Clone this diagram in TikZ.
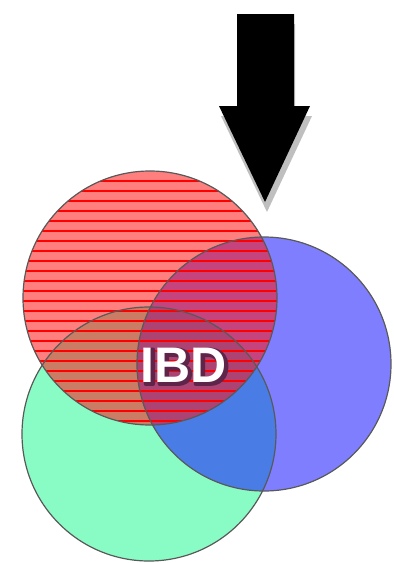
\documentclass[tikz,border=0pt]{standalone}
\usepackage{fontspec}
\setmainfont{Liberation Sans}
\definecolor{hatch}{RGB}{255,0,0}
\begin{document}
\begin{tikzpicture}[x=1pt,y=-1pt,
  outline/.style={draw=black!65,line width=1.2pt},
  lbl/.style={font=\fontsize{50}{50}\selectfont\bfseries,inner sep=0pt,text=white}]
\useasboundingbox (0,0) rectangle (394,563);
% green
\fill[fill={rgb,255:red,40;green,250;blue,150},fill opacity=0.55] (149,434) circle (127);
% blue
\fill[fill={rgb,255:red,20;green,20;blue,255},fill opacity=0.55] (264,364) circle (127);
% red
\fill[fill={rgb,255:red,255;green,20;blue,20},fill opacity=0.55] (150,298) circle (127);
\begin{scope}
  \clip (150,298) circle (127);
  \foreach \yy in {181,191,...,425} \draw[hatch,line width=1.05pt] (20,\yy) -- (280,\yy);
\end{scope}
\draw[outline] (149,434) circle (127);
\draw[outline] (264,364) circle (127);
\draw[outline] (150,298) circle (127);
% arrow shadow
\fill[black!25] (238,24) -- (295,24) -- (295,116) -- (312,116) -- (267,212) -- (221,116) -- (238,116) -- cycle;
\fill[black] (237,14) -- (294,14) -- (294,106) -- (310,106) -- (265,202) -- (219,106) -- (237,106) -- cycle;
% label
\node[lbl] (ibd) at (184,366) {\makebox[0pt][l]{\hspace{1.5pt}\raisebox{-1.5pt}{\special{pdf:literal direct 2 Tr 4 w 1 J 1 j 0.37 0.14 0.29 RG 0.37 0.14 0.29 rg}IBD\special{pdf:literal direct 0 Tr 1 1 1 rg}}}IBD};
\end{tikzpicture}
\end{document}
